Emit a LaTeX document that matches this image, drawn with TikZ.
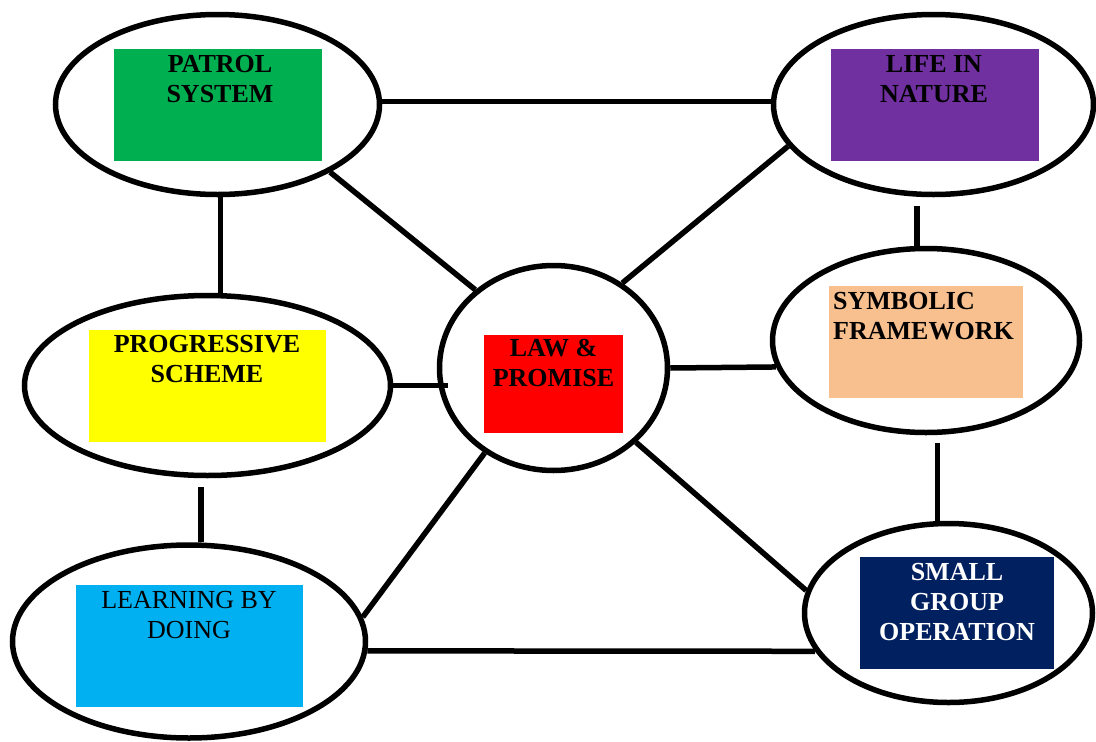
\documentclass[tikz,border=0pt]{standalone}
\usepackage{fontspec}
\setmainfont{Liberation Serif}
\usetikzlibrary{shapes.geometric}
\definecolor{cgreen}{HTML}{00B050}
\definecolor{cpurple}{HTML}{7030A0}
\definecolor{cyellow}{HTML}{FFFF00}
\definecolor{cred}{HTML}{FF0000}
\definecolor{cpeach}{HTML}{F8C08F}
\definecolor{cblue}{HTML}{00B0F0}
\definecolor{cnavy}{HTML}{002060}
\newcommand\lblfont{\fontsize{26}{30}\selectfont}
\begin{document}
\begin{tikzpicture}[x=1pt,y=-1pt,
  oval/.style={ellipse, draw, line width=5.5pt, inner sep=0pt, fill=white},
  box/.style={anchor=north west, inner sep=0pt, outer sep=0pt},
  lbl/.style={anchor=base, inner sep=0pt, font=\lblfont\bfseries},
  conn/.style={line width=5.5pt}]
\useasboundingbox (0,0) rectangle (1096,742);
% ovals
\node[oval, minimum width=324pt, minimum height=180pt] (pat) at (217.5,104.5) {};
\node[oval, minimum width=320pt, minimum height=180pt] (life) at (933.5,104.5) {};
\node[oval, minimum width=366pt, minimum height=180pt] (prog) at (207.5,385.5) {};
\node[oval, minimum width=228pt, minimum height=205pt] (law) at (553.5,368) {};
\node[oval, minimum width=307pt, minimum height=184pt] (sym) at (926,340.5) {};
\node[oval, minimum width=353pt, minimum height=193pt] (learn) at (189,641.5) {};
\node[oval, minimum width=288pt, minimum height=179pt] (small) at (948.5,613) {};
% coloured boxes
\node[box, fill=cgreen, minimum width=208pt, minimum height=112pt] (patbox) at (114,49) {};
\node[box, fill=cpurple, minimum width=208pt, minimum height=112pt] (lifebox) at (831,49) {};
\node[box, fill=cyellow, minimum width=237pt, minimum height=112pt] (progbox) at (89,330) {};
\node[box, fill=cred, minimum width=139pt, minimum height=98pt] (lawbox) at (484,335) {};
\node[box, fill=cpeach, minimum width=194pt, minimum height=112pt] (symbox) at (829,286) {};
\node[box, fill=cblue, minimum width=227pt, minimum height=122pt] (learnbox) at (76,585) {};
\node[box, fill=cnavy, minimum width=194pt, minimum height=112pt] (smallbox) at (860,557) {};
% labels
\node[lbl] (pattxt) at (220,72.5) {\begin{tabular}[t]{@{}c@{}}PATROL\\SYSTEM\end{tabular}};
\node[lbl] (lifetxt) at (934,72.5) {\begin{tabular}[t]{@{}c@{}}LIFE IN\\NATURE\end{tabular}};
\node[lbl] (progtxt) at (207,352.5) {\begin{tabular}[t]{@{}c@{}}PROGRESSIVE\\SCHEME\end{tabular}};
\node[lbl] (lawtxt) at (553.5,356.5) {\begin{tabular}[t]{@{}c@{}}LAW \&\\PROMISE\end{tabular}};
\node[lbl, anchor=base west] (symtxt) at (833,309.5) {\begin{tabular}[t]{@{}l@{}}SYMBOLIC\\FRAMEWORK\end{tabular}};
\node[lbl, font=\lblfont\mdseries] (learntxt) at (189,608.5) {\begin{tabular}[t]{@{}c@{}}LEARNING BY\\DOING\end{tabular}};
\node[lbl, text=white] (smalltxt) at (957,580.5) {\begin{tabular}[t]{@{}c@{}}SMALL\\GROUP\\OPERATION\end{tabular}};
% connectors
\draw[conn] (pat.1) -- (pat.1 -| life.west);
\draw[conn] (pat.-88) -- (pat.-88 |- prog.north);
\draw[conn] (pat.-31) -- (law.135);
\draw[conn] (life.-164) -- (law.51);
\draw[conn, shorten <=9pt] (life.-100) -- (life.-100 |- sym.north);
\draw[conn, shorten >=-11pt] (prog.east) -- (prog.east -| law.west);
\draw[conn] (law.east) -- (sym.190);
\draw[conn, shorten <=9pt] (prog.-94) -- (prog.-94 |- learn.north);
\draw[conn] (law.231) -- (learn.8);
\draw[conn] (law.-42) -- (small.171);
\draw[conn, shorten <=8pt] (sym.-83) -- (sym.-83 |- small.north);
\draw[conn] (learn.-3) -- (small.196);
\end{tikzpicture}
\end{document}
